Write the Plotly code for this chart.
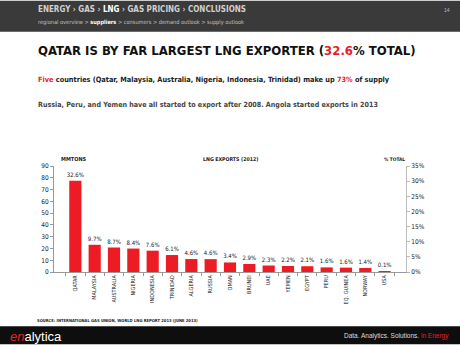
import plotly.graph_objects as go

# LNG exports in 2012 (million tonnes) and share of world total
countries = ["QATAR", "MALAYSIA", "AUSTRALIA", "NIGERIA", "INDONESIA", "TRINIDAD",
             "ALGERIA", "RUSSIA", "OMAN", "BRUNEI", "UAE", "YEMEN", "EGYPT", "PERU",
             "EQ. GUINEA", "NORWAY", "USA"]
exports_mt = [77.4, 23.1, 20.8, 19.9, 18.1, 14.4, 11.0, 10.9, 8.1, 6.8, 5.5, 5.1,
              4.9, 3.9, 3.7, 3.4, 0.2]
share_pct = [32.6, 9.7, 8.7, 8.4, 7.6, 6.1, 4.6, 4.6, 3.4, 2.9, 2.3, 2.2, 2.1,
             1.6, 1.6, 1.4, 0.1]
left_ticks = list(range(0, 100, 10))
right_ticks = list(range(0, 40, 5))

RED = "#ed1c24"
NARROW = "DejaVu Sans Condensed, Liberation Sans Narrow, sans-serif"
SANS = "Liberation Sans, Arial, sans-serif"

W, H = 460, 345
L, R, T, B = 54, 54, 166, 72.5
PW, PH = W - L - R, H - T - B


def px(x):
    return (x - L) / PW


def py(y):
    return (H - B - y) / PH


fig = go.Figure()
fig.add_trace(go.Bar(
    x=countries, y=exports_mt,
    marker=dict(color=RED, line=dict(width=0)),
    text=[f"{v}%" for v in share_pct],
    textposition="outside",
    constraintext="none",
    textfont=dict(family=NARROW, size=6, color="#222"),
    cliponaxis=False,
    hoverinfo="skip",
))
# Invisible companion trace to carry the % TOTAL axis
fig.add_trace(go.Scatter(x=countries, y=share_pct, yaxis="y2", mode="markers",
                         marker=dict(opacity=0), hoverinfo="skip", showlegend=False))

fig.update_layout(
    width=W, height=H,
    margin=dict(l=L, r=R, t=T, b=B, pad=0),
    paper_bgcolor="white", plot_bgcolor="white",
    showlegend=False, bargap=0.37,
    xaxis=dict(
        type="category", tickangle=-90,
        tickfont=dict(family=NARROW, size=5.5, color="#222"),
        showline=True, linecolor="#999", linewidth=1,
        ticks="outside", ticklen=3, tickcolor="#999", tickson="boundaries",
        showgrid=False,
    ),
    yaxis=dict(
        range=[0, 90], tickvals=left_ticks,
        tickfont=dict(family=NARROW, size=6.5, color="#222"),
        showline=True, linecolor="#999", linewidth=1,
        ticks="outside", ticklen=3, tickcolor="#999",
        showgrid=False, zeroline=False,
    ),
    yaxis2=dict(
        overlaying="y", side="right", range=[0, 35], tickvals=right_ticks,
        ticktext=[f"{v}%" for v in right_ticks],
        tickfont=dict(family=NARROW, size=6.5, color="#222"),
        showline=True, linecolor="#bbb", linewidth=1,
        ticks="outside", ticklen=3, tickcolor="#bbb",
        showgrid=False, zeroline=False,
    ),
)

# Header and footer bands
fig.add_shape(type="rect", xref="paper", yref="paper", x0=px(0), x1=px(W),
              y0=py(0), y1=py(31), fillcolor="#3a3a3a", line=dict(width=0), layer="below")
fig.add_shape(type="rect", xref="paper", yref="paper", x0=px(0), x1=px(W),
              y0=py(327), y1=py(H), fillcolor="#0e0e0e", line=dict(width=0), layer="below")


def note(x, y, text, size, family=NARROW, color="#222", xanchor="left"):
    fig.add_annotation(x=px(x), y=py(y), xref="paper", yref="paper", text=text,
                       showarrow=False, xanchor=xanchor, yanchor="middle",
                       font=dict(family=family, size=size, color=color))


def red(s):
    return f"<span style='color:{RED}'>{s}</span>"


note(36, 9, "<b>ENERGY › GAS › <span style='color:#ffffff'>LNG</span> › GAS PRICING › CONCLUSIONS</b>",
     8, color="#d0d0d0")
note(36, 22, "regional overview &gt; <b><span style='color:#ffffff'>suppliers</span></b> &gt; consumers &gt; demand outlook &gt; supply outlook",
     5.6, color="#c0c0c0")
note(452, 9, "14", 5, family=SANS, color="#bbbbbb", xanchor="right")

note(36, 50, f"<b>QATAR IS BY FAR LARGEST LNG EXPORTER ({red('32.6')}% TOTAL)</b>", 13, color="#111")
note(36, 79, f"<b>{red('Five')} countries (Qatar, Malaysia, Australia, Nigeria, Indonesia, Trinidad) make up {red('73%')} of supply</b>",
     7.3, color="#222")
note(36, 104, "<b>Russia, Peru, and Yemen have all started to export after 2008. Angola started exports in 2013</b>",
     7.1, color="#444")

note(59, 159, "<b>MMTONS</b>", 5.5)
note(230, 159, "<b>LNG EXPORTS (2012)</b>", 5.2, xanchor="center")
note(382, 159, "<b>% TOTAL</b>", 4.8)

note(35, 321, "<b>SOURCE: INTERNATIONAL GAS UNION, WORLD LNG REPORT 2013 (JUNE 2013)</b>", 4.1)

note(8, 337, f"<i>{red('en')}</i>alytica", 13, family=SANS, color="#ffffff")
note(451, 337, f"Data. Analytics. Solutions. {red('in Energy')}", 6.5, family=SANS,
     color="#dddddd", xanchor="right")

fig.write_html("out.html")
